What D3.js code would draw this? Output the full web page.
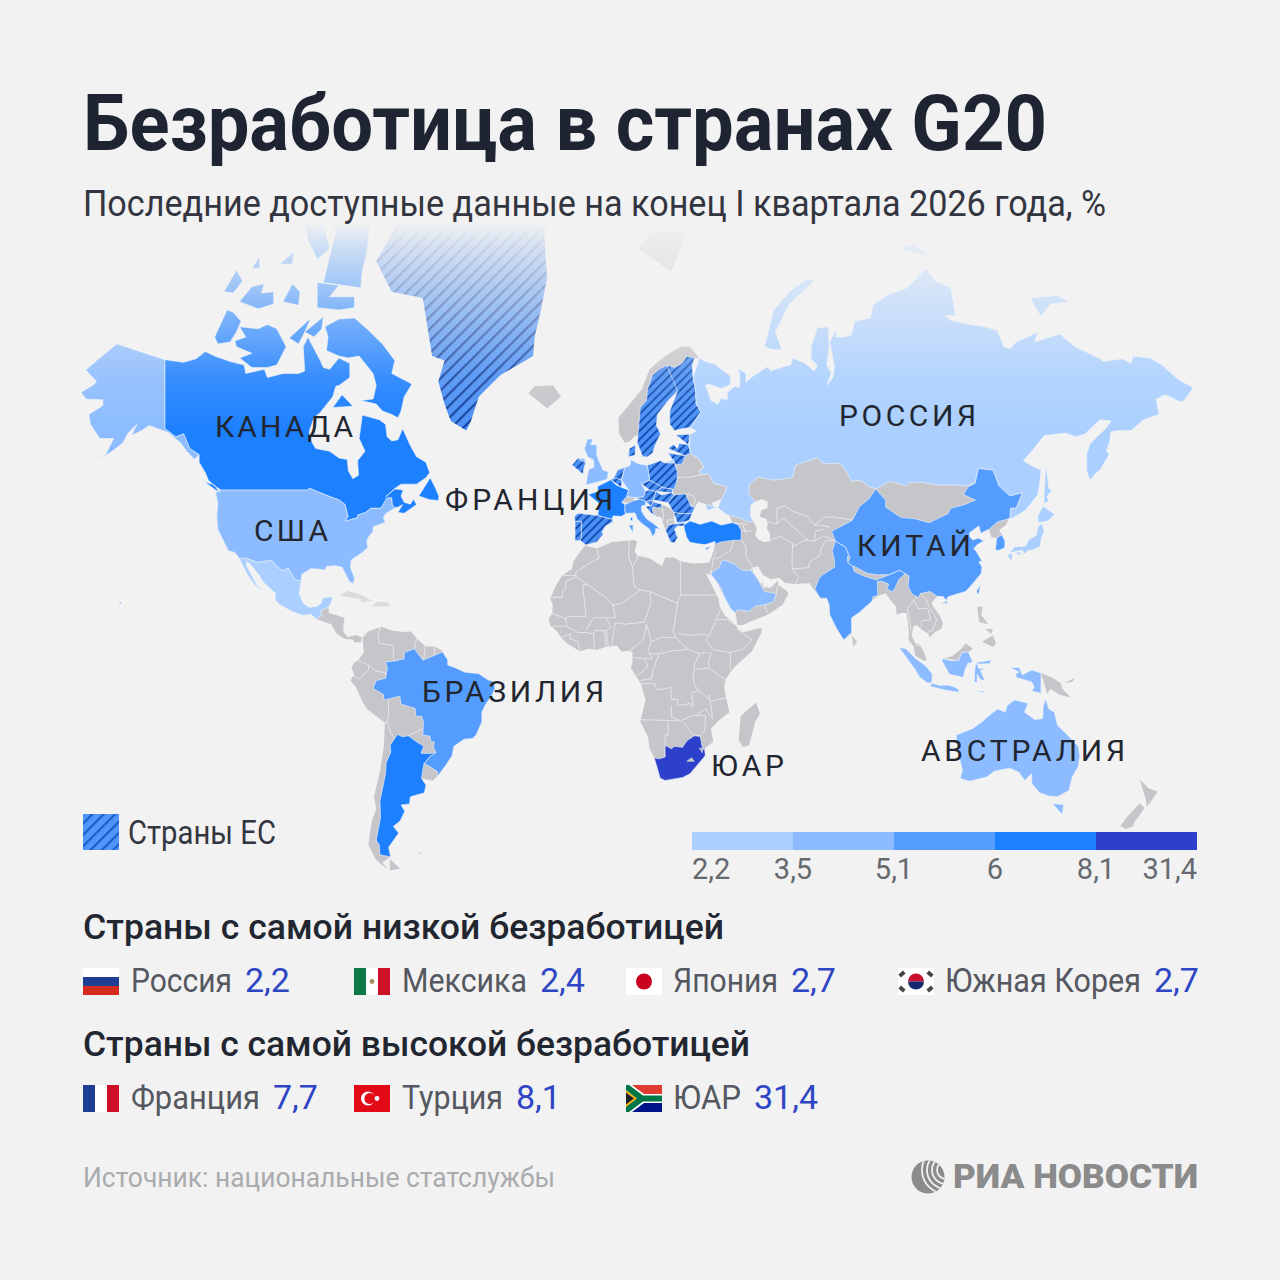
<!DOCTYPE html>
<html>
<head>
<meta charset="utf-8">
<script src="https://cdn.jsdelivr.net/npm/d3@7"></script>
<style>
	html, body { margin: 0; padding: 0; background: #f2f2f2; }
	svg { display: block; font-family: Roboto, sans-serif; }
</style>
</head>
<body>
<script>
// legend
const legend_ticks = ["2,2", "3,5", "5,1", "6", "8,1", "31,4"];
const legend_breaks = [3.5, 5.1, 6, 8.2];
const legend_colors = ["#abd0ff", "#8cbcff", "#549dfe", "#1d80ff", "#2c40cc"];

// the two lists under the map
const low_names = ["Россия", "Мексика", "Япония", "Южная Корея"];
const low_values = ["2,2", "2,4", "2,7", "2,7"];
const low_flags = ["ru", "mx", "jp", "kr"];
const high_names = ["Франция", "Турция", "ЮАР"];
const high_values = ["7,7", "8,1", "31,4"];
const high_flags = ["fr", "tr", "za"];

// labels on the map
const label_names = ["КАНАДА", "США", "ФРАНЦИЯ", "РОССИЯ", "КИТАЙ", "БРАЗИЛИЯ", "ЮАР", "АВСТРАЛИЯ"];

// colored countries, lon,lat rings. values
const map_names = ["Russia", "Mexico", "Japan", "Saudi", "USA", "Australia", "Indonesia", "Germany", "UK", "Italy", "Brazil", "India", "China", "SouthKorea", "Canada", "Argentina", "France", "Turkey", "SouthAfrica"];
const map_values = [2.2, 2.4, 2.7, 3.6, 4.3, 4.3, 4.8, 3.8, 5, 5.5, 5.6, 5.2, 5.3, 5.2, 6.7, 7.5, 7.7, 8.1, 31.4];
const map_shapes = [
	[ // Russia
		"31,69.8 33,69.4 36,69.1 41,67.7 41,66.6 38,66.1 34,66.7 33,66.5 34.8,64.5 37,64 38,64.8 40,64.6 40,65.6 42.5,66.4 44,66.2 44,68 43.5,68.6 46,68 46,66.9 48,67.6 53,68.8 54,68.3 58,68.8 60.5,69 61,69.8 65,69.2 68,68.3 69,68.9 67,69.7 67,71 69,72.9 72.5,73 72.8,71 72,69 73.5,68 72,66.5 74,67.5 74.5,68.8 73,71.5 75,72.8 75,72 77.5,72 80,72.2 81,73.5 86,73.8 87,75 92,75.8 98,76.3 104,77.7 107,76.8 112,76.3 113.5,74 110,74 112,73.6 118,73.2 123,73 127,72.6 129,71 131,70.8 133,71.5 140,72.5 139,71.5 147,72.3 152,71 160,69.7 161,69.4 167,69.7 170,69.2 170.6,70 176,69.8 180,69 185,67.3 190,66.2 187,64.5 186,64.3 181,65.3 178,64.7 179,62.5 174,61.7 170,60 166,60 163.5,59.8 163,58 162,56.5 163,56 160,53 158.5,52.3 156.7,51 155.7,53 155.7,56 156.8,57.8 159,59 161.8,60.3 163.5,61.5 160,61.7 155,59.4 152,59 149,59.6 142,59.2 138,56.5 135.3,54.8 137.5,54 141,53 140.5,50 140,48 136,44.5 132.5,43 130.7,42.3 131,43 131.2,45 133,45 135,48.4 131,47.7 127.5,49.8 125.5,53 120.8,53.3 119.8,50.4 116.7,49.8 113.5,50 107.5,50 102.3,50.6 98.3,50.5 97.5,49.8 92.5,50.8 87.8,49.2 85.5,49.7 83,51 80,50.8 77.5,53.5 76,54.3 71,54.2 69,55.3 62,54 61,51.5 55,51 50,51.6 47,50 47,48 49,46.5 47.5,45.6 47.5,43 48.5,41.8 46.5,41.8 44,42.7 40,43.4 37,45 37.8,46.6 38.2,47.1 40,49.6 38,50 35.5,50.4 34,52.3 31.8,52.1 31,53 32.5,53.5 31,55 28.2,56.1 27.8,57.5 28,59.4 30,59.9 28,60.5 29.5,61.5 31.5,62.9 30,64 29.8,66 29,67.5 28.7,69",
		"52,71 55,70.7 57.5,70.7 55.5,72.5 60,75 68,76.8 66,77 60,76 55,74.5 52,72.5",
		"137.5,75.5 141,73.9 144,75 150,75.2 146,75.7 140,76",
		"178.7,71 182,71.2 180,71.6",
		"142.5,54.3 143,52 143.5,49.3 144.5,49 142.8,47.5 143.5,46.7 142,46 142,48 142,51",
		"20,54.4 22.8,54.4 22.8,55 21,55.2",
		"33,45.9 35.5,45.5 36.5,45.2 35,44.8 33.7,44.4 32.5,45.4",
		"95,79 100,79.3 105,78.5 100,78"
	],
	[ // Mexico
		"-117.1,32.5 -114.8,32.5 -111,31.3 -108.2,31.8 -106.5,31.8 -104.7,30 -103,29 -101.4,29.8 -99.2,26.6 -97.2,26 -97.8,22.5 -96.5,19.5 -94.5,18.2 -92,18.6 -90.7,19.5 -90.3,21 -87,21.5 -87.5,19.5 -88.3,18.5 -89.1,17.9 -91,17.2 -90.4,16.2 -92.2,14.6 -94,16.1 -96.5,15.7 -100,16.9 -104,19 -105.5,20.5 -105.5,22.5 -109.4,25.8 -110.5,27.5 -112.7,30 -114.7,31.7 -114.8,30.5 -111.5,25 -109.5,23 -110.3,23.5 -112.2,25 -114.5,28 -115.8,30"
	],
	[ // Japan
		"130.9,34 132.5,35.5 136,35.7 137,37.3 139.5,38.5 140,40.5 141.3,41.4 142,39.5 141,37.5 140.8,35.7 138.8,34.8 136.8,34.5 135.5,33.6 135,34.6 132.5,34",
		"140,41.6 140,43.3 141.7,45.4 145.3,43.6 143.3,42 141,42.5",
		"130,33.5 131.8,33.7 131.5,31.5 130.5,31.2",
		"132.5,33.9 134.5,34.2 134.2,33.3 133,32.8"
	],
	[ // Saudi Arabia
		"34.6,28.1 36,29.2 37.5,30 38,31.5 39,32 42,31 44.7,29.2 47.7,29 48.4,28.4 49.5,27 50.2,26 51,24.6 52,23 55.1,22.6 55.7,22 55,20 52,19 49,18.6 47,17 43.3,17.5 42.7,16.4 41,18 39,21.5 38,24 36.5,26 35,28.1"
	],
	[ // USA
		"-123,49 -95,49 -94.6,49.4 -89.5,48 -84.8,46.8 -83,45.8 -82,43 -83,42 -79,42.8 -79,43.4 -76.5,44 -74.7,45 -71.5,45 -69.5,47.3 -68,47.3 -67.8,45.7 -67,45 -70,43.7 -70.7,42.7 -70,41.7 -74,40.6 -74,39.5 -75.5,38 -76,37 -75.7,35.3 -77.5,34 -81,32 -81.3,30 -80,27 -80.3,25.3 -81.7,26 -82.8,28 -84,30 -86,30.4 -89,30.2 -89.5,29.2 -91.5,29.5 -94,29.6 -97,28 -97.2,26 -99.2,26.6 -101.4,29.8 -103,29 -104.7,30 -106.5,31.8 -108.2,31.8 -111,31.3 -114.8,32.5 -117.1,32.5 -118.5,34 -120.6,34.5 -122,36.8 -124,40 -124.3,43 -124,46.2 -124.7,48.4 -122.8,48",
		"-141,69.6 -141,60.3 -137.5,59 -135,59.5 -133,57 -130,55.9 -131.5,55 -134,56.5 -136,58 -140,59.7 -146,60.8 -148.5,60 -151.8,59.2 -150,61 -153,59.5 -154.5,58 -158,56.5 -163,54.8 -160,56 -157.5,58.7 -162,58.7 -165,61 -165.5,62.5 -161,63.8 -161,64.6 -166.5,64.7 -168,65.6 -164,66.6 -163,67 -166.5,68.4 -163,69.5 -156.5,71.3 -150,70.5",
		"-154,57.5 -152.5,57.5 -153,58.3",
		"-155.5,19 -155,19.7 -155.8,20.2 -156,19.6"
	],
	[ // Australia
		"113.7,-22 114,-26 115.7,-32 115,-34.3 118,-35 123.5,-33.9 126,-32.3 131,-31.5 134,-32.7 135.7,-34.8 138,-33 138,-35.6 140.5,-38 143.5,-38.8 146.3,-39 150,-37.4 151,-34 153,-31 153.5,-28 153,-25.3 149.5,-22 146.3,-19 145.3,-15 143.5,-14 142.5,-10.8 141.7,-13 141.5,-17 139,-17.3 135.7,-15 136.8,-12.2 132.5,-11.2 130,-13 129.5,-15 127,-14 125,-15.5 122,-18 119,-20 116,-21",
		"144.7,-40.7 148.3,-40.9 147.8,-43.3 146,-43.5"
	],
	[ // Indonesia
		"95.3,5.6 97.5,5.2 100.5,2.2 103.5,0 104.5,-1 106,-3 105.8,-5.8 104.5,-5.8 102,-4 100.5,-1.5 98.7,1.7",
		"105.2,-6.8 106,-5.9 108.5,-6.6 110.8,-6.4 112.7,-6.9 114.5,-7.8 114.5,-8.7 110,-8 106.5,-7.4",
		"109,1.5 109.6,2 112,1.4 114.5,1.5 115.5,4 117.6,4.2 119,1 117.5,0.5 116.5,-1.5 116,-4 114,-3.5 111.5,-3 110,-1.5",
		"119.5,-5.5 120.4,-5.6 120.5,-3 121.5,-4.7 123,-5 122,-3 121.5,-1.8 123.3,-0.9 121,-1.2 120.2,0.8 125,1.6 124.5,0.4 120,0.3 119.7,-1 118.9,-3",
		"115,-8.3 116.5,-8.5 115.5,-8.8",
		"117,-8.4 119,-8.6 117,-9",
		"119.5,-8.5 123,-8.3 122.5,-8.8 120,-8.9",
		"123.5,-10.3 127,-8.4 125,-9.3",
		"127.5,1.8 128.5,0 127.8,-0.8",
		"128,-3.2 130.8,-3.2 129.5,-3.4",
		"131,-0.8 134,-0.8 135,-3.2 138,-1.6 141,-2.6 141,-9.1 138,-8.3 138.8,-7 138,-5.5 133,-4 132.8,-2.8 134,-2.3 132,-2.2"
	],
	[ // Germany
		"6,51 7,53.5 8.7,53.9 9,55 11,54.3 14.2,53.9 14.7,52.5 15,51 12.3,50.3 13.7,48.7 13,47.5 10,47.3 7.6,47.6 8.2,49 6.2,49.5"
	],
	[ // UK
		"-5.5,50 -1.5,50.7 1.4,51.2 1.7,52.7 0,53 -1.5,55 -2,56 -2,57.6 -4,57.7 -3.2,58.6 -5,58.6 -6,57 -5,55.5 -3,54.9 -3,53.5 -4.5,53.2 -5,52 -3.2,51.4",
		"-8,55.1 -6,55.2 -5.5,54.4 -7.5,54.2"
	],
	[ // Italy
		"7,45.8 7,44 7.5,43.8 10.3,43.9 11,42.5 12.5,41.4 15,40 16,38 15.7,38 16.8,39 17,40.2 18.5,40 16,41.5 14,42.5 12.4,44.3 12.4,45.5 13.7,45.7 13.7,46.5 12,47 10,46.7 8.5,46.2",
		"12.5,38 15.6,38.2 15,36.7",
		"8.3,41 9.7,41 9.6,39.1 8.5,39"
	],
	[ // Brazil
		"-51.7,4.2 -50,1.7 -50,0 -48,-0.7 -44.5,-2.3 -40,-2.8 -37,-4.8 -35,-5.4 -34.8,-7.5 -35.7,-9.6 -38,-12.9 -39,-15 -39,-18 -40.8,-21.9 -42,-23 -44.7,-23.2 -48,-25.3 -48.6,-28 -50.7,-30.8 -53.4,-33.8 -53.2,-32.5 -55.8,-31 -57.6,-30.2 -55.8,-28.3 -53.8,-27.1 -54.6,-25.6 -54.3,-24 -55.4,-24 -55.7,-22.3 -58,-22 -57.8,-18 -58.4,-16.3 -60.2,-16.3 -60.5,-13.8 -65,-12.5 -65.4,-10 -69.6,-11 -70.6,-11 -70.6,-9.5 -74,-7.5 -73,-5 -70,-4.3 -69.4,-1 -70,1 -67,1.3 -64,2 -64,4 -60.7,5.2 -59.8,4 -58,1.5 -54.6,2.3"
	],
	[ // India
		"68.2,23.7 70,21 72,21 72.8,19 73,16 75,12 77.5,8 79,9.5 80,10.5 80,15 82.3,16.5 86.5,20 87,21.5 88.5,21.8 88.3,26 89.8,26 92,25.2 91.3,23.5 92.3,23.5 93,22.8 94,24 95.2,26.5 97.3,28.2 95.5,29.2 92,27.8 89,26.8 88,26.4 84,27.5 81,28.7 80.3,30.3 78.8,31.3 78.7,33 79.5,32.7 78,35.5 74.8,37 73.8,34.5 74.5,32 74.5,30 71,28 69.6,27 71,24.5"
	],
	[ // China
		"73.6,39.5 74.8,37 78,35.5 79.5,32.7 78.8,31.3 80.3,30.3 81,30.2 85,28.3 88,27.9 92,27.9 95.5,29.2 97.3,28.2 98.5,27.5 98.2,24.5 99.5,22.2 101.5,21.2 102.2,22.4 105.3,23 107.5,21.6 109.5,21.5 110.5,20.3 111,21.4 114,22.3 116.7,23 119,25.3 121.7,28.2 122,30 121,31.5 122,31.7 120,34.5 119.3,35 120.5,36.1 122.6,37 120.8,37.8 119,37.3 118,38.2 118,39.1 121,40.8 121.6,39 124.3,40 126.9,41.7 128,42 130.6,42.5 131,43 131.2,45 133,45 135,48.4 131,47.7 127.5,49.8 125.5,53 120.8,53.3 119.8,50.4 117.5,49.6 116,48 119.9,46.8 116,45.7 112,45 111,43.7 105,41.6 100,42.6 96,42.8 91,45.2 91,46.8 87.8,49.2 85.5,47 82.5,45.3 80.3,42.2 74,40.2",
		"108.7,19.3 110.5,20 111,19.5 110,18.3",
		"121.5,25.2 120.2,23 120.9,22 121.9,24.5"
	],
	[ // South Korea
		"126.7,37.8 128.4,38.6 129.4,37 129.3,35.3 127.5,34.6 126.3,34.6 126.7,36.9"
	],
	[ // Canada
		"-141,69.6 -141,60.3 -137.5,59 -135,59.5 -133,57 -130,55.9 -130,54.5 -128,52.5 -127,51 -125,49.8 -123,49 -95,49 -94.6,49.4 -89.5,48 -84.8,46.8 -83,45.8 -82,43 -83,42 -79,42.8 -79,43.4 -76.5,44 -74.7,45 -71.5,45 -69.5,47.3 -68,47.3 -67.8,45.7 -67,45.1 -66,45.2 -64.5,45.8 -66,44 -64,43.8 -60,45.8 -61,47 -62,45.9 -64,46.3 -65,47.7 -64.3,49 -67,49.2 -70,47.5 -67,49.3 -65,50.2 -60,50.2 -57,51.5 -55.8,52.5 -57,54.5 -60,55.5 -62,57.5 -64.5,60.3 -66,58.5 -68,58.3 -69.5,59 -70,61 -72,61.7 -77.5,62.4 -78,60.5 -78.5,58.7 -76.6,56.5 -79,54.8 -78.7,52 -80.5,51.3 -82,52.9 -82.3,55 -85,55.3 -88,56.5 -92.5,57 -94.5,58.8 -94.5,60 -93,62 -91,62.8 -87,65 -86,66.4 -85,66.5 -81.5,67.5 -81.5,69.2 -85,69.8 -88,68.5 -90,68.7 -91,69.5 -95,72 -96.5,71 -96,68.3 -98,68 -103,68 -108,67.5 -109,68.5 -115,68 -115.5,69 -120,69.4 -125,70 -128,70.5 -131,69.7 -135,69.3 -139,69.5",
		"-59.3,47.7 -55.8,46.9 -53,46.7 -52.8,47.6 -54,49.5 -55.6,51.5 -57.3,50.5",
		"-128.3,50.7 -125,50 -123.5,48.4 -125.5,48.9",
		"-61.5,66.7 -64,65 -65,63 -66,62 -68,62.5 -71,63 -73,64 -78,64.5 -74,64.7 -73,66.5 -74,68 -78.5,70 -82,69.8 -85,70 -89,70.6 -88.5,72 -89.5,73 -85,73.7 -80,73.8 -76,72.8 -71,71.3 -67,69.5 -68,68 -62,67",
		"-105,69 -108,68.7 -113,68.7 -117,69.8 -113,70.3 -118,71 -118.5,71.6 -115,72 -117,73 -111,72.8 -108,73.2 -105,72.8 -102,71 -101.5,70",
		"-125,72 -124,71.3 -120,71.5 -118,72.5 -116.5,73.5 -119,74.3 -121,74.5 -124.5,74",
		"-122,76 -119,75.9 -116,76.8 -118,77.6 -121,76.9",
		"-117,75.2 -111,74.6 -106,75 -106,76 -110,75.9 -109,76.6 -113,76.4 -116,76.5",
		"-103,75.2 -98,74.9 -97.5,76 -100,76.6 -103,76",
		"-92,74.7 -85,74.5 -80,74.7 -80,75.6 -88,75.6 -85,76.5 -92,76.7 -96,76",
		"-90,76.7 -78,76.3 -77.5,77.5 -76,78.8 -75,80.4 -72,83 -92,83 -90,81 -86,80 -88,78.5 -85,77.6",
		"-88,79 -92,78.3 -95,79.5 -96,80.6 -91,81.2 -90,80.2",
		"-104,78 -100,78 -99.5,78.8 -103,79.4",
		"-113,77.7 -110.5,77.7 -110.5,78.5 -113,78.5",
		"-101,71.9 -98,71.3 -96,72.5 -94,73.8 -100,73.7",
		"-96,72.5 -93,72 -90.5,72.8 -90,73.9 -95,74",
		"-87,63.5 -80.5,63.7 -84,65.3 -86,65.5"
	],
	[ // Argentina
		"-66.2,-21.8 -64.5,-22.5 -62.7,-22.2 -60,-24 -57.7,-25.3 -58.6,-27.3 -55.8,-27.4 -53.8,-27.1 -55.8,-28.3 -57.6,-30.2 -58.2,-33 -58.4,-34.3 -57,-36 -57.5,-38 -62,-39 -62.3,-40.8 -65,-41 -63.8,-42.5 -65.3,-44.8 -67.5,-46 -65.8,-47.5 -69,-50.5 -68.4,-52.4 -71.8,-52 -72,-50 -73,-49 -71.6,-44 -71.8,-40 -71,-37 -70,-33 -69.8,-30 -68.3,-27 -68.5,-25 -67,-23",
		"-68.6,-52.7 -65.2,-54.7 -68.6,-54.9"
	],
	[ // France
		"2.5,51.1 4.2,50 6,49.5 8.2,49 7.6,47.6 6,46.3 7,45.8 7,44 7.5,43.8 6,43.1 3.2,43.2 3,42.4 -1.7,43.3 -1.2,46 -4.7,48 -1.6,48.7 -1.8,49.7 0.2,49.6",
		"8.7,42.5 9.5,43 9.5,41.7 9,41.4"
	],
	[ // Turkey
		"26.2,40 26,41 28,42 31.3,41.2 35,42 38,41 41.6,41.6 43.5,41.1 44.5,39.7 44.5,37.3 42,37.2 38,36.8 36.2,36.2 36,36.9 33,36.1 30.5,36.3 28,36.7 27,37.8 26.7,39.3"
	],
	[ // South Africa
		"16.5,-28.6 18,-28.9 20,-28.4 20,-25 22,-26 23,-25.3 25.6,-25.6 27,-23.7 29.4,-22.2 31.3,-22.4 32,-25.9 32.8,-26.5 32.9,-28 31,-30 28,-33 25.7,-34 20,-34.8 18.4,-34.2 18.2,-32"
	]
];

// EU members, hatched instead of a value colour
const eu_names = ["Sweden", "Finland", "Estonia", "Latvia", "Lithuania", "Poland", "Netherlands", "Belgium", "Spain", "Portugal", "Austria", "Czechia", "Slovakia", "Hungary", "Slovenia", "Croatia", "Romania", "Bulgaria", "Greece", "Cyprus", "Denmark", "Ireland"];
const eu_shapes = [
	["11.2,59 11,58 12.8,55.5 14.3,55.5 16,56.2 16.7,57.5 18.5,59.5 17.2,60.8 17.5,62.5 21,64.5 24,65.8 23.5,67.5 20.5,69 18.2,68.5 16,67.8 14.3,66 14,64.5 12,63.5 12.5,61"],
	["24,65.8 21.5,63 21.5,61 23,60 25.5,60.3 28,60.5 29.5,61.5 31.5,62.9 30,64 29.8,66 29,67.5 28.7,69 29.5,69.8 27,70 25.5,69.2 23,68.7 20.5,69 23.5,67.5"],
	["23.5,59.3 28,59.4 27.5,57.6 24.5,57.9"],
	["21,57 22.6,57.7 24,57 24.5,57.9 27.5,57.6 28.2,56.1 26.5,55.7 21,56.2"],
	["21,56.2 26.5,55.7 25.5,54.2 23.5,54 21,55.2"],
	["14.2,53.9 18.5,54.8 19.8,54.4 23,54.4 24,52.5 23.7,50.5 22.8,49.1 19,49.5 15,51 14.7,52.5"],
	["3.4,51.4 4.8,53 7,53.5 6,51 4.3,51.4"],
	["2.5,51.1 3.4,51.4 4.3,51.4 6,51 6,49.5 4.2,50"],
	["-1.7,43.3 3,42.4 3.2,41.8 0.7,40.7 -0.3,39.4 0,38.7 -2,36.8 -5.5,36 -7.4,37.2 -7,38 -7,41.9 -9,41.9 -9.2,43.1 -8,43.8 -4,43.4", "2.4,39.6 3.4,39.8 3,39.3"],
	["-9,41.9 -7,41.9 -7,38 -7.4,37.2 -9,37 -9.5,38.7"],
	["10,47.3 13,47.5 13.7,48.7 15,49 17,48.7 16.3,46.8 13.7,46.5 12,47 10,46.7"],
	["12.3,50.3 15,51 19,49.6 17,48.7 15,49 13.7,48.7"],
	["17,48.7 19,49.5 22.5,49.1 22,48.4 18.8,47.9"],
	["16.3,46.8 17,48.7 18.8,47.9 22,48.4 22.8,47.9 21,46.2 18.8,45.9"],
	["13.7,46.5 16.3,46.8 15.5,45.5 13.7,45.5"],
	["13.7,45.4 15.5,45.5 16.3,46.4 18.8,45.9 19,45 16,45.2 16,44 19,42.5 15.5,43.8 14.5,45"],
	["21,46.2 22.8,47.9 26.5,48.2 28,46 28.2,45.4 29.6,45.2 28.7,43.8 25,43.7 22.7,44 21.4,45"],
	["22.7,44 25,43.7 28.7,43.8 27.8,42.2 26.3,41.8 24,41.5 22.9,41.3"],
	["20.2,39.6 21,41 22.9,41.3 26.3,41.5 26,40.8 24,40.8 23,40 24,38 23,36.5 21.7,36.8 21.2,38.3", "23.6,35.6 26.2,35.2 24.8,34.9"],
	["32.4,35 34.5,35.6 33.7,34.9 32.8,34.6"],
	["8.2,55.5 8.5,57 10.5,57.6 10.3,55.8 9.5,55", "11,55.7 12.5,55.9 12.2,55"],
	["-10,54 -8,55.3 -6,55.1 -5.6,54.4 -6.3,53 -6.4,52.2 -10,51.6"]
];
const greenland_shape = ["-73,78.2 -68,76 -58,75.5 -55,70 -51,69.5 -53,67 -51,64 -49,61.5 -44,60 -42.5,61.5 -40,65 -33,67.8 -22.5,70 -22,72 -20,74.5 -18,77 -19,80 -13,81.5 -30,83.5 -50,82.5 -60,82 -68,80.5"];

// grey land with no data: whole landmasses, the borders are drawn over them
const grey_land = [
	// Africa
	"-5.9,35.8 -2,35.1 3,36.8 10,37.3 11,36.9 10.2,34.3 11,33.2 15.3,32.3 19,30.3 20,32.7 23,32.6 25,31.6 29,31 32.5,31.2 34.2,31.3 34.9,29.5 34.2,27.8 33,28.5 32.6,29.9 33.5,27.5 35.5,24 37.2,21 37.5,18.7 39,16 43,12.5 43.3,11.6 45,10.5 51,11.9 51,10.4 48,4.5 42,-1 39.5,-4.5 39,-7 39.5,-10 40.7,-15 37,-17.8 34.7,-20 35.5,-24 32.8,-25.9 32.9,-28 31,-30 28,-33 25.7,-34 20,-34.8 18.4,-34.2 18.2,-32 16.5,-28.6 15,-26 14.5,-22.5 12,-18 13.7,-11 12.2,-6 9,-1 9.5,1 9.5,4 8.5,4.6 6,4.3 4.5,6.3 1,5.9 -2,4.8 -4.5,5.2 -7.5,4.4 -11.5,6.9 -13.2,8.5 -15,11 -17,12.5 -17.5,14.7 -16.3,16.5 -16.2,19 -17,21 -14.7,25.5 -13,27.8 -10,29.5 -9.6,31.6 -7,33.5",
	"49.3,-12 50.5,-15.5 49,-18 47,-25 45,-25.5 43.7,-23.5 44,-20 44.3,-16.2 47,-15.5",
	// South America
	"-77.4,8.7 -75.5,10.8 -72,12 -71.5,11 -71.8,12.4 -68,11 -64,10.6 -61.8,10.7 -60,8.5 -57.2,6 -54,5.9 -51.7,4.5 -50,1.7 -50,0 -48,-0.7 -44.5,-2.3 -40,-2.8 -37,-4.8 -35,-5.4 -34.8,-7.5 -35.7,-9.6 -38,-12.9 -39,-15 -39,-18 -40.8,-21.9 -42,-23 -44.7,-23.2 -48,-25.3 -48.6,-28 -50.7,-30.8 -53.4,-33.8 -54.9,-34.9 -58.4,-34.3 -57,-36 -57.5,-38 -62,-39 -62.3,-40.8 -65,-41 -63.8,-42.5 -65.3,-44.8 -67.5,-46 -65.8,-47.5 -69,-50.5 -68.4,-52.4 -71,-53.5 -69,-55 -73,-53 -75.5,-50 -74.5,-45 -73,-42 -73.7,-39 -71.7,-32 -70.5,-25 -70.2,-18.3 -76,-14 -77.3,-12 -79.6,-7 -81.3,-5 -80,-3 -81,-1 -80,0.8 -78.8,1.5 -77,4 -77.5,7",
	"-68.6,-52.7 -65.2,-54.7 -68.6,-55 -72,-54",
	// Central America
	"-92.2,14.6 -90.4,16.2 -91,17.2 -89.1,17.9 -88.3,18.5 -88.3,16.5 -86,15.9 -83.2,15 -83.6,12 -83.5,10.5 -82.2,9 -79.5,9.6 -77.4,8.7 -77.9,7.2 -80,7.3 -80.5,8.2 -83,8.3 -85.7,10 -87.5,13 -90,13.8",
	// Middle East, Central Asia and South East Asia, the north edge sits under Russia and China
	"36,36.8 35.8,35 35,33 34.2,31.3 34.9,29.5 35,28.1 36.5,26 39,21.5 41,18 42.7,16.4 43.3,12.7 45,12.8 49,14.5 52.2,15.6 55,17.2 57.8,19 59.8,22.5 58.6,23.6 56.4,24.9 56.3,26.2 54,24.1 51.5,24.3 51.2,26 50.8,24.8 50,26.5 48.4,28.4 48,30 50,30.2 51.5,27.9 54,26.6 56.8,27 58.5,25.6 61.5,25.2 66.5,25.4 67.5,24 70,21 72,21 72.8,19 73,16 75,12 77.5,8 80,10 80,15 86,20 89,21.8 91,22.5 92.3,20.7 94.3,18.5 94.5,16 96,16.5 97.7,16.5 98.2,13.5 98.5,10 98.3,8 100,6 100.5,3 103.5,1.3 104.2,1.4 103.4,4 102,6.5 100.5,7 99.3,9.5 100,12.5 101,12.7 103,11 104.8,10 105,8.7 106.7,10.4 109,11.7 109.4,13.5 108.2,16 106,18.8 105.8,19.8 107.5,21.5 115,30 118,40 120,48 118,52 60,56 45,50 40,44 41,42.7 41.6,41.6 40,40",
	// Ukraine and Belarus
	"23.5,54 25.5,54.2 26.5,55.7 28.2,56.1 31,55 32.5,53.5 31,53 31.8,52.1 34,52.3 35.5,50.4 38,50 40,49.6 38.2,47.1 35,46.2 35.5,45.5 33,45.9 30.7,46.5 29.6,45.2 28.2,45.4 28,46 26.5,48.2 22.8,47.9 22.5,49.1 23.7,50.5 24,52.5",
	// Balkans
	"18.8,45.9 21.4,45 22.7,44 22.9,41.3 21,41 20.2,39.6 19.3,41.5 19,42.5 16,44 16,45.2 19,45",
	// Norway
	"5,62 5.2,59.5 7,58 8.5,58.2 10.6,59.3 11.5,59 12.5,61 12,63.5 14,64.5 14.3,66 16,67.8 18.2,68.5 20.5,69 23,68.7 25.5,69.2 28.8,69 29.5,69.8 31,69.8 28,71 25,71 20,70 15,68.5 12.5,66 10,64",
	// Switzerland
	"6,46.3 7.6,47.6 10,47.3 10,46.7 8.5,46.2 7,45.8",
	// Iceland, Svalbard
	"-24,65.5 -22,66.4 -16,66.5 -13.5,65 -18,63.4 -22.5,63.9",
	"11,79 16,80 27,80 22,77.5 17,76.7",
	// North Korea
	"124.3,40 126.9,41.7 128,42 130.6,42.5 129.7,41 127.5,39.8 128.4,38.6 126.7,37.8 125,38 125.3,39.5",
	// Malaysia on Borneo, Papua New Guinea, New Britain
	"109.6,2 111.3,2.5 113,3.2 115,5 116.8,7 119,5.2 117.6,4.2 115.5,4 114.5,1.5 112,1.4",
	"141,-2.6 145,-4.3 147.5,-6 147.7,-7.5 150.7,-10.5 147,-9.5 144,-7.7 143,-9.2 141,-9.1",
	"148.5,-5.7 152,-4.2 151,-5.5 149,-6.3",
	// Philippines
	"120.5,18.4 122.2,18.4 121.7,16 124,13 121,13.7 120,16",
	"122,7.5 125.5,9.5 126.5,7 125.5,5.8 124,6.5",
	"123,11.5 125.5,11.5 125,10 123,9.5",
	// Sri Lanka, New Zealand
	"80,9.7 81.8,7.5 80.6,6 79.8,7.5",
	"172.7,-34.5 175.5,-36.8 178.5,-37.7 177,-39.5 175,-41.5 174.8,-39.8 174.7,-38",
	"172.7,-40.6 174.3,-41.7 172.7,-43.5 171,-45 170.7,-46 168.3,-46.6 166.5,-46 168.3,-44.2 171,-42"
];
// small islands drawn paler
const pale_land = [
	"-85,21.9 -82,23.2 -77.5,21.8 -74.2,20.2 -77.7,19.9 -78,20.7 -82,22.4",
	"-74.4,18.4 -72.8,20 -69.5,19.8 -68.4,18.6 -71.5,17.8",
	"-60,-51.5 -58,-51.5 -58.5,-52 -60,-52",
	"164,-20.2 167,-22.3 166,-22"
];
const lakes = [
	"47.5,45.6 49,46.5 51,47 53,46.5 53,45 51,44.5 50.5,43 52.5,42.5 53,41.5 52.8,40 53.7,39 53.9,37 52,36.7 50,37.4 49,38.5 49.5,40.3 48.5,41.8 47.5,43 47,44.5"
];
const small_holes = [ // Lesotho, Eswatini
	"27,-29.6 28.5,-28.6 29.4,-29.6 28,-30.6",
	"31,-25.8 32,-26 32,-27.2 31,-27"
];
const grey_borders = [
	// Africa
	"-2,35.1 -1.2,32.5 -3.5,31.5 -8.7,28.7 -8.7,27.3", "-8.7,27.7 -13,27.7",
	"-8.7,27.3 -12,26 -12,23.5 -13,23 -13,21.3 -17,21.3", "-8.7,27.3 -4.8,25 -6.5,25 -5.5,15.5 -11,15.4 -12,14.8 -16.4,16.3",
	"-4.8,25 1.2,21 3.2,19 6,19.4 12,23.5", "8.5,37 8.2,33 9.5,30 10,24.5 12,23.5", "9.5,30 11.5,33.2",
	"12,23.5 15,23 24,19.5", "25,31.6 25,22 24,20 24,19.5", "25,22 37,22",
	"15,23 15.5,20 13.5,14", "13.5,13.7 7,13 4,13.5 3.6,11.7", "3.2,19 4,15 1,15 -3,15 -5.5,11", "1,15 2.5,12 1,11 -2.8,11 -3,10 -5.5,10.4",
	"-12,14.8 -11.5,12.2 -8,10.4 -5.5,10.4", "-16.7,12.4 -12,12.4", "-13,9 -10.5,10 -10.5,8.3 -8,7.5 -7.5,4.4",
	"-3,10 -2.8,5", "0.5,11 1,6", "1,11 1.7,6.2", "3.6,11.7 2.8,6.4", "14,13 13,8 8.6,4.6", "14,13 15,9.5 15.5,7.5 19,9 23.5,8.7",
	"24,19.5 23,13 22.5,11 23.5,8.7 27.5,5", "24,10 28,9.5 33,10 34,9", "15,3.5 18.5,3.7 22,4.5 27.5,5 31,3.7",
	"15.5,7.5 14.5,4.5 15.9,1.9 13.3,2.2 9.8,2.3", "13.3,2.2 14.5,-0.5 11,-3.5", "18,3.5 16,-2 15.8,-4.3 12.2,-5",
	"12.2,-6 16.5,-6 17.5,-8 21.8,-7.2 22,-11 24,-11 24,-13 28,-12.3 29,-13.4 28.5,-9 30.8,-8.2", "31,3.7 29.5,0 29,-4 29.5,-6.5 30.8,-8.2",
	"34.9,4.3 34,1 34,-1 39.3,-4.6", "31,3.7 34,4", "34,9 33,8 35,5.5", "35,5 41,4 45,5 48,8 43.2,11.4", "41,4 41,-1.7",
	"36.5,14.5 34,9", "36.5,14.5 38,17.8", "36.5,14.5 40,14.5 43,12.5", "29.5,-1.4 34,-1", "30.8,-8.2 34.9,-11.5 40.4,-10.4",
	"34,-9.5 35,-14 35.2,-17 33,-14 30.3,-15.6", "22,-13 22,-16.5 25,-17.7", "11.8,-17.3 18.5,-17.5 25,-17.7",
	"25,-17.7 29,-16 33,-16 32.8,-20.5 31,-22.3 29,-22 25.9,-18", "21,-18 21,-22 20,-22 20,-28.4",
	// South America
	"-71.8,12 -72.5,9 -72,7 -67.5,6.2 -67.5,2 -67,1.3", "-70,-4.3 -70,-2.5 -73,-2 -75.5,0 -78.8,1.5", "-75.5,0 -75.5,-1.5 -78.5,-4.5 -80.3,-3.4",
	"-69,-11 -69,-16 -69.5,-18 -70.3,-18.3", "-69.5,-18 -68.3,-21.5 -67,-23", "-58,-20 -62.7,-22.2", "-60.7,5.2 -60,8.5", "-57.2,6 -57.7,2", "-54,5.9 -54.6,2.3", "-77.4,8.7 -77.9,7.2",
	// Middle East and Central Asia
	"42,37.2 41,34.4 38.8,33.4 36.8,32.3 35.6,32.7", "44.5,37.5 46,35.5 46,33 48,30.3", "44.5,39.7 48,39.5", "41.5,41.5 46.5,41.2", "45,41 46,39",
	"53.9,37.3 57,38.2 61,36.5 61,35.5 60.8,31.4 61,29.5 63,27.2 61.7,25.1", "61,29.5 66.3,29.9 66.5,31.4 69.5,33 70.5,35.5 71.5,37 74.8,37.2",
	"61,35.5 65,37.3 68,37 71,38.3 74.8,37.2", "53,41.8 56,41.3 58,42.7 62,40 66,37.3", "56,41.3 56,45 58.5,45.5 61,44.3 66,43 68,41 71,42.8 74,43 80.2,42.2",
	"68,41 70,41 73,40.5", "68,37 68.5,39.5 71,40", "73.8,39.5 80,42", "47.7,29 48,30", "52,19 53,16.6", "55.7,22 56.3,24.9", "35,29.5 35.5,32.5", "35.6,33.3 36.6,34.2",
	// South East Asia
	"101,21.5 100,20.4 98,18 98.6,15 99.2,11", "100,20.4 101.5,17.8 104.5,18 105.5,14.5 102.5,14 102.5,12", "107.5,14.5 106,11 104.5,10.4", "107.5,14.5 105,18.5 104,20.5 102.2,22.4", "100.3,6.5 102,6.2",
	// eastern Europe
	"23.7,51.6 28,51.6 31.8,52.1", "26.6,48.3 29,47.7 30,46.4 28.2,45.5", "19,45 19.5,43.5 19.3,42.2", "20.5,42.2 22.5,42.3", "20.5,42.2 21,41"
];

const bg = "#f2f2f2";
const ink = "#222630";
const grey_fill = "#c6c6ca";

const width = 1280;
const height = 1280;

function rings(list) {
	return list.map(s => [s.trim().split(/\s+/).map(p => p.split(',').map(Number))]);
}

function lines(list) {
	return list.map(s => s.trim().split(/\s+/).map(p => p.split(',').map(Number)));
}

function multi(list) {
	return { type: "MultiPolygon", coordinates: rings(list) };
}

// plain mercator with no clipping: the far end of Russia goes past 180 on purpose
const map_x = d3.scaleLinear().domain([0, 1]).range([603, 603 + 178]);
const map_y = d3.scaleLinear().domain([0, 1]).range([665, 665 + 178]);

function project(lon, lat) {
	const p = d3.geoMercatorRaw(lon * Math.PI / 180, lat * Math.PI / 180);
	return [map_x(p[0]), map_y(-p[1])];
}

const geopath = d3.geoPath(d3.geoTransform({
	point: function(lon, lat) {
		const p = project(lon, lat);
		this.stream.point(p[0], p[1]);
	}
}));

const color = d3.scaleThreshold().domain(legend_breaks).range(legend_colors);

const svg = d3.select("body").append("svg")
	.attr('width', width)
	.attr('height', height)
	.attr('viewBox', `0 0 ${width} ${height}`);

const defs = svg.append('defs');

function hatch(id, size, stroke_width, base, line) {
	const p = defs.append('pattern')
		.attr('id', id)
		.attr('patternUnits', 'userSpaceOnUse')
		.attr('width', size)
		.attr('height', size)
		.attr('patternTransform', 'rotate(45)');

	p.append('rect').attr('width', size).attr('height', size).attr('fill', base);
	p.append('rect').attr('width', stroke_width).attr('height', size).attr('fill', line);
};

hatch('hatch-eu', 6, 2, "#4a90f5", "#1650b4");
hatch('hatch-big', 8.5, 2.2, "#4a90f5", "#123f9c");
hatch('hatch-legend', 8, 2.2, "#4f97fb", "#1a5cc8");

const fade = defs.append('linearGradient')
	.attr('id', 'fade')
	.attr('gradientUnits', 'userSpaceOnUse')
	.attr('x1', 0).attr('y1', 222)
	.attr('x2', 0).attr('y2', 430);

[[0, 1], [0.1, 0.85], [0.4, 0.5], [0.75, 0.12], [1, 0]].forEach(s => {
	fade.append('stop')
		.attr('offset', s[0])
		.attr('stop-color', bg)
		.attr('stop-opacity', s[1]);
});

svg.append('rect').attr('width', width).attr('height', height).attr('fill', bg);

const map = svg.append('g').attr('stroke-linejoin', 'round');

map.append('path')
	.attr('d', geopath(multi(grey_land)))
	.attr('fill', grey_fill);

map.append('path')
	.attr('d', geopath(multi(pale_land)))
	.attr('fill', "#dcdce0");

map.append('path')
	.attr('d', geopath(multi(lakes)))
	.attr('fill', bg);

map.append('path')
	.attr('d', geopath({ type: "MultiLineString", coordinates: lines(grey_borders) }))
	.attr('fill', 'none')
	.attr('stroke', "#eeeeee")
	.attr('stroke-width', 0.8);

map.append('path')
	.attr('d', geopath(multi(greenland_shape)))
	.attr('fill', 'url(#hatch-big)');

map.selectAll('path.eu')
	.data(eu_shapes)
	.enter().append('path')
	.attr('class', 'eu')
	.attr('data-name', (d, i) => eu_names[i])
	.attr('d', d => geopath(multi(d)))
	.attr('fill', 'url(#hatch-eu)')
	.attr('stroke', "#eef2f8")
	.attr('stroke-width', 0.6);

map.selectAll('path.country')
	.data(map_shapes)
	.enter().append('path')
	.attr('class', 'country')
	.attr('data-name', (d, i) => map_names[i])
	.attr('d', d => geopath(multi(d)))
	.attr('fill', (d, i) => color(map_values[i]))
	.attr('stroke', "#f0f4fa")
	.attr('stroke-width', 0.6);

map.append('path')
	.attr('d', geopath(multi(small_holes)))
	.attr('fill', grey_fill)
	.attr('stroke', "#eeeeee")
	.attr('stroke-width', 0.5);

// the top of the map dissolves into the page
svg.append('rect').attr('x', 0).attr('y', 222).attr('width', width).attr('height', 208).attr('fill', 'url(#fade)');
svg.append('rect').attr('width', width).attr('height', 222).attr('fill', bg);

// map labels
const label_x = [215, 254, 445, 839, 857, 422, 711, 921];
const label_y = [437, 541, 510, 426, 556, 702, 776, 761];
const label_w = [138, 74, 168, 137, 114, 182, 73, 204];

svg.append('g').selectAll('text')
	.data(label_names)
	.enter().append('text')
	.attr('x', (d, i) => label_x[i])
	.attr('y', (d, i) => label_y[i])
	.attr('font-size', 30)
	.attr('fill', ink)
	.attr('textLength', (d, i) => label_w[i])
	.attr('lengthAdjust', 'spacing')
	.text(d => d);

// titles
function text(x, y, s, size, weight, fill, w) {
	const t = svg.append('text')
		.attr('x', x)
		.attr('y', y)
		.attr('font-size', size)
		.attr('font-weight', weight)
		.attr('fill', fill)
		.text(s);

	if (w) t.attr('textLength', w).attr('lengthAdjust', 'spacingAndGlyphs');

	return t;
};

text(83, 150, "Безработица в странах G20", 78, 700, "#1f2433", 964);
text(83, 216, "Последние доступные данные на конец I квартала 2026 года, %", 36, 400, "#333640", 1023);

// EU key
svg.append('rect').attr('x', 83).attr('y', 814).attr('width', 36).attr('height', 36).attr('fill', 'url(#hatch-legend)');
text(128, 844, "Страны ЕС", 33, 400, "#333640", 148);

// colour scale
const legend_x = d3.scalePoint().domain(legend_ticks).range([692, 1197]);

svg.append('g').selectAll('rect')
	.data(legend_colors)
	.enter().append('rect')
	.attr('x', (d, i) => legend_x(legend_ticks[i]))
	.attr('y', 832)
	.attr('width', (d, i) => legend_x(legend_ticks[i + 1]) - legend_x(legend_ticks[i]))
	.attr('height', 18)
	.attr('fill', d => d);

svg.append('g').selectAll('text')
	.data(legend_ticks)
	.enter().append('text')
	.attr('x', d => legend_x(d))
	.attr('y', 879)
	.attr('font-size', 29)
	.attr('fill', "#666a70")
	.attr('text-anchor', (d, i) => i === 0 ? 'start' : (i === legend_ticks.length - 1 ? 'end' : 'middle'))
	.text(d => d);

// flags
function flag(name, x, y) {
	const w = 36, h = 27;
	const g = svg.append('g').attr('transform', `translate(${x},${y})`);
	const rect = (rx, ry, rw, rh, f) => g.append('rect').attr('x', rx).attr('y', ry).attr('width', rw).attr('height', rh).attr('fill', f);
	const circle = (cx, cy, r, f) => g.append('circle').attr('cx', cx).attr('cy', cy).attr('r', r).attr('fill', f);

	if (name === 'ru') {
		rect(0, 0, w, 9, "#ffffff");
		rect(0, 9, w, 9, "#1c3f94");
		rect(0, 18, w, 9, "#d52b1e");
	}
	else if (name === 'mx') {
		rect(0, 0, 12, h, "#0b7a48");
		rect(12, 0, 12, h, "#ffffff");
		rect(24, 0, 12, h, "#ce1126");
		circle(18, 13.5, 2.4, "#a58a66");
	}
	else if (name === 'jp') {
		rect(0, 0, w, h, "#ffffff");
		circle(18, 13.5, 8, "#c8001e");
	}
	else if (name === 'kr') {
		rect(0, 0, w, h, "#ffffff");
		g.append('path').attr('d', "M10,13.5 A8,8 0 0 1 26,13.5 Z").attr('fill', "#c8102e");
		g.append('path').attr('d', "M10,13.5 A8,8 0 0 0 26,13.5 Z").attr('fill', "#17296e");
		[[4, 6, -40], [32, 6, 40], [4, 21, 40], [32, 21, -40]].forEach(c => {
			g.append('rect')
				.attr('x', c[0] - 3).attr('y', c[1] - 2).attr('width', 6).attr('height', 4)
				.attr('fill', "#444")
				.attr('transform', `rotate(${c[2]},${c[0]},${c[1]})`);
		});
	}
	else if (name === 'fr') {
		rect(0, 0, 12, h, "#1c3f94");
		rect(12, 0, 12, h, "#ffffff");
		rect(24, 0, 12, h, "#ce1126");
	}
	else if (name === 'tr') {
		rect(0, 0, w, h, "#e30a17");
		circle(14, 13.5, 7, "#ffffff");
		circle(16, 13.5, 5.6, "#e30a17");
		circle(23, 13.5, 2.4, "#ffffff");
	}
	else if (name === 'za') {
		rect(0, 0, w, 13.5, "#e03c31");
		rect(0, 13.5, w, 13.5, "#001489");
		g.append('path').attr('d', "M0,0 L18,13.5 L0,27 Z").attr('fill', "#ffb81c");
		g.append('path').attr('d', `M0,0 L6,0 L18,9 L${w},9 L${w},18 L18,18 L6,27 L0,27 Z`).attr('fill', "#ffffff");
		g.append('path').attr('d', `M0,0 L3,0 L17,10.5 L${w},10.5 L${w},16.5 L17,16.5 L3,27 L0,27 Z`).attr('fill', "#007749");
		g.append('path').attr('d', "M0,5 L11,13.5 L0,22 Z").attr('fill', "#ffb81c");
		g.append('path').attr('d', "M0,7.5 L8,13.5 L0,19.5 Z").attr('fill', "#222");
	}
};

const list_flag_x = [83, 354, 626, 898];
const list_name_x = [131, 402, 673, 945];
const list_value_gap = 13;

function list(names, widths, values, flags, y) {
	names.forEach((n, i) => {
		flag(flags[i], list_flag_x[i], y - 24);

		text(list_name_x[i], y, n, 33, 400, "#555860", widths[i]);
		text(list_name_x[i] + widths[i] + list_value_gap, y, values[i], 34, 400, "#2e46c4");
	});
};

text(83, 939, "Страны с самой низкой безработицей", 35, 500, "#222630", 641);
list(low_names, [101, 125, 105, 196], low_values, low_flags, 992);

text(83, 1056, "Страны с самой высокой безработицей", 35, 500, "#222630", 667);
list(high_names, [129, 101, 68], high_values, high_flags, 1109);

// footer
text(83, 1187, "Источник: национальные статслужбы", 27, 400, "#a9abae", 472);

const logo = svg.append('g');
const logo_clip = defs.append('clipPath').attr('id', 'logo-clip');
logo_clip.append('circle').attr('cx', 928).attr('cy', 1177).attr('r', 16.5);

logo.append('circle').attr('cx', 928).attr('cy', 1177).attr('r', 16.5).attr('fill', "#8b8b8b");

logo.selectAll('circle.arc')
	.data([9, 14, 19, 24])
	.enter().append('circle')
	.attr('class', 'arc')
	.attr('cx', 946)
	.attr('cy', 1170)
	.attr('r', d => d)
	.attr('fill', 'none')
	.attr('stroke', bg)
	.attr('stroke-width', 1.8)
	.attr('clip-path', 'url(#logo-clip)');

text(953, 1188, "РИА НОВОСТИ", 33, 900, "#8b8b8b", 245);
</script>
</body>
</html>
